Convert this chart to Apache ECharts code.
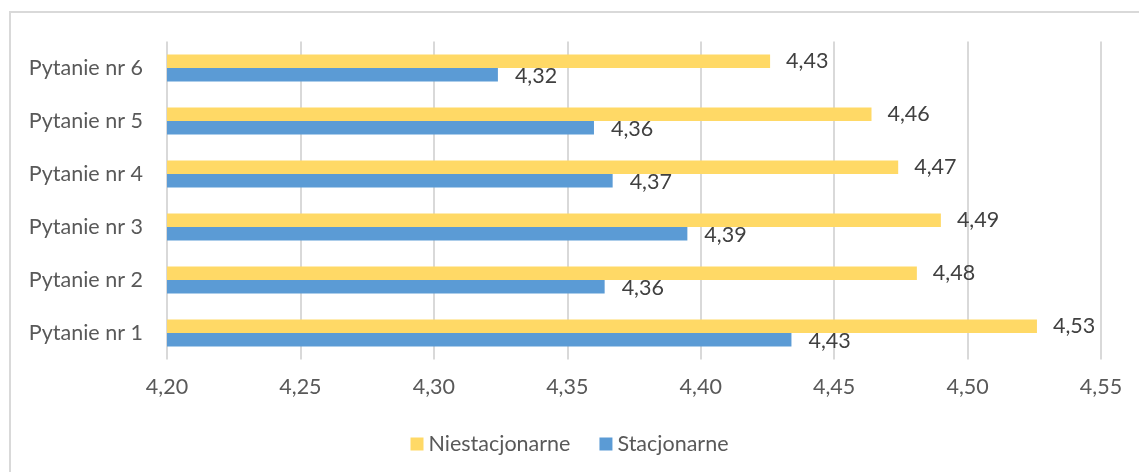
<!DOCTYPE html>
<html>
<head>
<meta charset="utf-8">
<script src="https://cdn.jsdelivr.net/npm/echarts@6/dist/echarts.min.js"></script>
<style>
  html, body { margin: 0; padding: 0; background: #fff; }
  #chart { width: 1139px; height: 472px; }
</style>
</head>
<body>
<div id="chart"></div>
<script>
// dane z wykresu
const categories = ['Pytanie nr 1', 'Pytanie nr 2', 'Pytanie nr 3', 'Pytanie nr 4', 'Pytanie nr 5', 'Pytanie nr 6'];
const stacjonarne = [4.434, 4.364, 4.395, 4.367, 4.36, 4.324];
const niestacjonarne = [4.526, 4.481, 4.49, 4.474, 4.464, 4.426];
const xTicks = { min: 4.20, max: 4.55, step: 0.05 };

const fmt = v => v.toFixed(2).replace('.', ',');
const txt = '#595959';
const font = 'Lato, "Open Sans", sans-serif';
const fs = 21.5;

let chart = echarts.init(document.getElementById('chart'));
let option = {
  animation: false,
  textStyle: { fontFamily: font },
  graphic: [{
    type: 'rect',
    shape: { x: 10, y: 12, width: 1400, height: 800 },
    style: { fill: 'none', stroke: '#d9d9d9', lineWidth: 2 },
    silent: true
  }],
  grid: { left: 167, right: 38, top: 41.6, bottom: 112.6, containLabel: false },
  legend: {
    data: ['Niestacjonarne', 'Stacjonarne'],
    bottom: 12,
    left: 'center',
    itemWidth: 13,
    itemHeight: 13,
    itemGap: 29,
    icon: 'rect',
    textStyle: { color: txt, fontSize: fs, fontFamily: font }
  },
  xAxis: {
    type: 'value',
    min: xTicks.min,
    max: xTicks.max,
    interval: xTicks.step,
    axisLine: { show: false },
    axisTick: { show: false },
    splitLine: { lineStyle: { color: '#d9d9d9', width: 2 } },
    axisLabel: { color: txt, fontSize: fs, margin: 17, formatter: fmt }
  },
  yAxis: {
    type: 'category',
    data: categories,
    axisLine: { show: false },
    axisTick: { show: false },
    axisLabel: { color: txt, fontSize: fs, margin: 24 }
  },
  series: [
    {
      name: 'Niestacjonarne',
      type: 'bar',
      data: niestacjonarne,
      barWidth: 13.5,
      barGap: '0%',
      itemStyle: { color: '#FFD966' },
      label: { show: true, position: 'right', distance: 16, color: '#404040', fontSize: fs, formatter: p => fmt(p.value) }
    },
    {
      name: 'Stacjonarne',
      type: 'bar',
      data: stacjonarne,
      barWidth: 13.5,
      barGap: '0%',
      itemStyle: { color: '#5B9BD5' },
      label: { show: true, position: 'right', distance: 17, offset: [0, 1], color: '#404040', fontSize: fs, formatter: p => fmt(p.value) }
    }
  ]
};
chart.setOption(option);
</script>
</body>
</html>
